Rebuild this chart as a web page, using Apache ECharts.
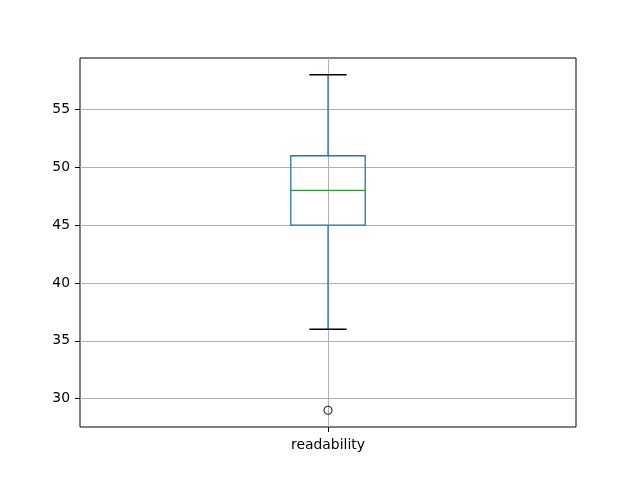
<!DOCTYPE html>
<html>
<head>
<meta charset="utf-8">
<script src="https://cdn.jsdelivr.net/npm/echarts@6/dist/echarts.min.js"></script>
<style>html,body{margin:0;padding:0;background:#fff;}#c{width:640px;height:480px;}</style>
</head>
<body>
<div id="c"></div>
<script>
var categories = ['readability'];
// [whiskerLow, q1, median, q3, whiskerHigh]
var boxStats = [[36, 45, 48, 51, 58]];
var outliers = [[0, 29]];
var yTicks = [30, 35, 40, 45, 50, 55];
var yMin = 27.55, yMax = 59.45;

var chart = echarts.init(document.getElementById('c'), null, {renderer: 'canvas'});
var boxData = boxStats.map(function (s, i) { return [i].concat(s); });

chart.setOption({
  animation: false,
  backgroundColor: '#fff',
  grid: {left: 80, right: 64, top: 58, bottom: 53, show: true, borderColor: '#000', borderWidth: 1, backgroundColor: 'transparent'},
  xAxis: {
    type: 'category', data: categories, boundaryGap: true,
    axisLine: {show: false},
    axisTick: {show: true, alignWithLabel: true, length: 5, lineStyle: {color: '#000'}},
    axisLabel: {color: '#000', fontSize: 13.9, fontFamily: 'DejaVu Sans', margin: 11},
    splitLine: {show: false}
  },
  yAxis: {
    type: 'value', min: yMin, max: yMax,
    axisLine: {show: false},
    axisTick: {show: true, length: 5, lineStyle: {color: '#000'}, customValues: yTicks},
    axisLabel: {color: '#000', fontSize: 13.9, fontFamily: 'DejaVu Sans', margin: 10, padding: [2, 0, 0, 0], customValues: yTicks},
    splitLine: {show: true, lineStyle: {color: '#b0b0b0', width: 1}}
  },
  series: [
    {
      type: 'scatter', data: outliers, z: 4,
      symbol: 'circle', symbolSize: 8,
      itemStyle: {color: 'rgba(0,0,0,0)', borderColor: '#000', borderWidth: 1.2},
      markLine: {
        silent: true, symbol: 'none', label: {show: false}, z: 1,
        lineStyle: {color: '#b0b0b0', width: 1, type: 'solid'},
        data: [{xAxis: 0}]
      }
    },
    {
      type: 'custom', z: 3, data: boxData,
      renderItem: function (params, api) {
        var x = api.value(0);
        var band = api.size([1, 0])[0];
        var hw = band * 0.15 / 2;
        var cw = hw / 2;
        var pLow = api.coord([x, api.value(1)]);
        var pQ1 = api.coord([x, api.value(2)]);
        var pMed = api.coord([x, api.value(3)]);
        var pQ3 = api.coord([x, api.value(4)]);
        var pHigh = api.coord([x, api.value(5)]);
        var cx = pQ1[0];
        var blue = '#1f77b4';
        return {
          type: 'group',
          children: [
            {type: 'line', shape: {x1: cx, y1: pQ1[1], x2: cx, y2: pLow[1]}, style: {stroke: blue, lineWidth: 1.3}},
            {type: 'line', shape: {x1: cx, y1: pQ3[1], x2: cx, y2: pHigh[1]}, style: {stroke: blue, lineWidth: 1.3}},
            {type: 'line', shape: {x1: cx - cw, y1: pLow[1], x2: cx + cw, y2: pLow[1]}, style: {stroke: '#000', lineWidth: 1.3}},
            {type: 'line', shape: {x1: cx - cw, y1: pHigh[1], x2: cx + cw, y2: pHigh[1]}, style: {stroke: '#000', lineWidth: 1.3}},
            {type: 'rect', shape: {x: cx - hw, y: pQ3[1], width: 2 * hw, height: pQ1[1] - pQ3[1]}, style: {fill: 'none', stroke: blue, lineWidth: 1.3}},
            {type: 'line', shape: {x1: cx - hw, y1: pMed[1], x2: cx + hw, y2: pMed[1]}, style: {stroke: '#2ca02c', lineWidth: 1.3}}
          ]
        };
      }
    }
  ]
});
</script>
</body>
</html>
